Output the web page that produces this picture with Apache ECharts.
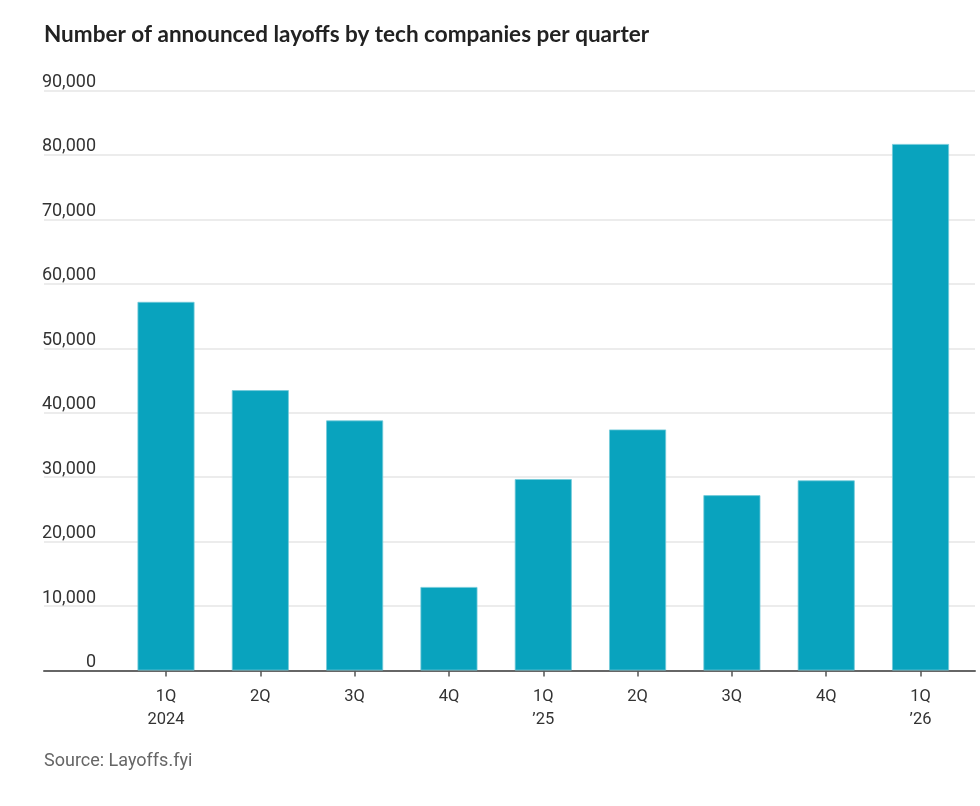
<!DOCTYPE html>
<html>
<head>
<meta charset="utf-8">
<script src="https://cdn.jsdelivr.net/npm/echarts@6/dist/echarts.min.js"></script>
<style>
html,body{margin:0;padding:0;background:#fff;}
#chart{width:980px;height:806px;}
</style>
</head>
<body>
<div id="chart"></div>
<script>
const categories = ['1Q\n2024', '2Q', '3Q', '4Q', '1Q\n\u201925', '2Q', '3Q', '4Q', '1Q\n\u201926'];
const layoffs = [57200, 43500, 38800, 12960, 29700, 37400, 27200, 29500, 81700];
const yTicks = [0, 10000, 20000, 30000, 40000, 50000, 60000, 70000, 80000, 90000];

const TITLE_FONT = 'Lato, "Noto Sans", sans-serif';
const FONT = 'Roboto, "Noto Sans", sans-serif';
const chart = echarts.init(document.getElementById('chart'));
chart.setOption({
  backgroundColor: '#fff',
  animation: false,
  title: [{
    text: 'Number of announced layoffs by tech companies per quarter',
    left: 44, top: 22, padding: 0,
    textStyle: {fontFamily: TITLE_FONT, fontSize: 22.5, fontWeight: 'bold', color: '#222', lineHeight: 26}
  }, {
    text: 'Source: Layoffs.fyi',
    left: 44, top: 750, padding: 0,
    textStyle: {fontFamily: FONT, fontSize: 18, fontWeight: 'normal', color: '#666', lineHeight: 22}
  }],
  grid: [
    {left: 44, right: 5, top: 90.5, bottom: 135.5},
    {left: 118.85, right: 12.3, top: 90.5, bottom: 135.5}
  ],
  xAxis: [{
    gridIndex: 0, type: 'value', min: 0, max: 1,
    axisLine: {show: true, lineStyle: {color: '#666', width: 2}},
    axisTick: {show: false}, axisLabel: {show: false}, splitLine: {show: false}
  }, {
    gridIndex: 1, type: 'category', data: categories,
    axisLine: {show: false},
    axisTick: {show: true, alignWithLabel: true, length: 6, lineStyle: {color: '#555', width: 1.5}},
    axisLabel: {fontFamily: FONT, fontSize: 16.5, color: '#333', lineHeight: 23, margin: 14.5, interval: 0}
  }],
  yAxis: [{
    gridIndex: 0, type: 'value', min: yTicks[0], max: yTicks[yTicks.length - 1], interval: 10000,
    axisLine: {show: false}, axisTick: {show: false},
    splitLine: {show: true, lineStyle: {color: '#e6e6e6', width: 1.5}},
    axisLabel: {
      inside: true, align: 'right', margin: 52, verticalAlign: 'bottom',
      fontFamily: FONT, fontSize: 18, color: '#333',
      formatter: v => '{a|' + v.toLocaleString('en-US') + '}',
      rich: {a: {fontFamily: FONT, fontSize: 18, color: '#333', lineHeight: 16, align: 'right'}}
    }
  }, {
    gridIndex: 1, type: 'value', min: yTicks[0], max: yTicks[yTicks.length - 1], interval: 10000,
    show: false, splitLine: {show: false}
  }],
  series: [{
    type: 'bar', xAxisIndex: 1, yAxisIndex: 1,
    data: layoffs, barWidth: 57,
    itemStyle: {color: '#09a3be', borderColor: '#74cad9', borderWidth: 0.8},
    z: 3
  }]
});
</script>
</body>
</html>
